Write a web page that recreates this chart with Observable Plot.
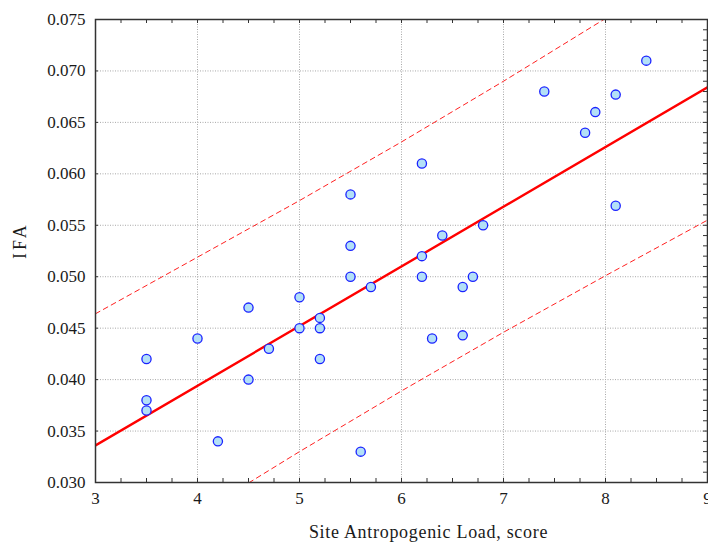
<!DOCTYPE html>
<html>
<head>
<meta charset="utf-8">
<script src="https://cdn.jsdelivr.net/npm/d3@7"></script>
<script src="https://cdn.jsdelivr.net/npm/@observablehq/plot@0.6"></script>
<style>
  html, body { margin: 0; padding: 0; background: #fff; }
  #chart { width: 708px; height: 542px; overflow: hidden; }
</style>
</head>
<body>
<div id="chart"></div>
<script>
// Observed points
const loadScore = [3.5,3.5,3.5,4.0,4.2,4.5,4.5,4.7,5.0,5.0,5.2,5.2,5.2,5.5,5.5,5.5,5.6,5.7,6.2,6.2,6.2,6.3,6.4,6.6,6.6,6.7,6.8,7.4,7.8,7.9,8.1,8.1,8.4];
const ifa = [0.042,0.038,0.037,0.044,0.034,0.047,0.040,0.043,0.048,0.045,0.046,0.045,0.042,0.058,0.053,0.050,0.033,0.049,0.061,0.052,0.050,0.044,0.054,0.049,0.0443,0.050,0.055,0.068,0.064,0.066,0.0677,0.0569,0.071];

// Regression line
const fitX = [3, 9];
const fitY = [0.0336, 0.0684];

// Prediction band
const bandX = [3, 4, 5, 6, 7, 8, 9];
const bandUpper = [0.0464, 0.0519, 0.0574, 0.0631, 0.0690, 0.0751, 0.0813];
const bandLower = [0.0208, 0.0269, 0.0330, 0.0389, 0.0446, 0.0501, 0.0555];

// Axis ticks and titles
const xTicks = [3, 4, 5, 6, 7, 8, 9];
const yTicks = [0.030, 0.035, 0.040, 0.045, 0.050, 0.055, 0.060, 0.065, 0.070, 0.075];
const xMinor = d3.range(3, 9.001, 0.25);
const yMinor = d3.range(0.030, 0.0751, 0.001);
const xTitle = "Site Antropogenic Load, score";
const yTitle = "IFA";

const points = loadScore.map((x, i) => ({x, y: ifa[i]}));
const fit = fitX.map((x, i) => ({x, y: fitY[i]}));
const upper = bandX.map((x, i) => ({x, y: bandUpper[i]}));
const lower = bandX.map((x, i) => ({x, y: bandLower[i]}));

const W = 708, H = 542, mt = 19, mb = 60, ml = 95, mr = 1;
const innerH = H - mt - mb, innerW = W - ml - mr;

const chart = Plot.plot({
  width: W,
  height: H,
  marginTop: mt,
  marginBottom: mb,
  marginLeft: ml,
  marginRight: mr,
  style: {fontFamily: "'Liberation Serif', serif", fontSize: "17px", color: "#1a1a1a", background: "#fff"},
  x: {domain: [3, 9]},
  y: {domain: [0.030, 0.075]},
  marks: [
    Plot.gridX(xTicks.slice(1, -1), {stroke: "#a8a8a8", strokeOpacity: 1, strokeDasharray: "1,1.5"}),
    Plot.gridY(yTicks.slice(1, -1), {stroke: "#a8a8a8", strokeOpacity: 1, strokeDasharray: "1,1.5"}),
    // inward ticks
    Plot.tickX(xMinor, {x: d => d, insetTop: innerH - 4, stroke: "#333"}),
    Plot.tickX(xMinor, {x: d => d, insetBottom: innerH - 4, stroke: "#333"}),
    Plot.tickY(yMinor, {y: d => d, insetLeft: innerW - 4, stroke: "#333"}),
    Plot.tickY(yTicks, {y: d => d, insetRight: innerW - 3, stroke: "#333"}),
    Plot.axisX(xTicks, {tickSize: 0, tickPadding: 9, label: null, fontSize: 17}),
    Plot.axisY(yTicks, {tickSize: 0, tickPadding: 10, tickFormat: d3.format(".3f"), label: null, fontSize: 17}),
    Plot.text([xTitle], {text: d => d, frameAnchor: "bottom", dy: 55, dx: 27, fontSize: 18, fill: "#1a1a1a"}),
    Plot.text([yTitle], {text: d => d, frameAnchor: "left", dx: -75, dy: 8, rotate: -90, fontSize: 18, fill: "#1a1a1a"}),
    Plot.line(upper, {x: "x", y: "y", stroke: "#ff2020", strokeWidth: 1, strokeDasharray: "5,4", clip: true}),
    Plot.line(lower, {x: "x", y: "y", stroke: "#ff2020", strokeWidth: 1, strokeDasharray: "5,4", clip: true}),
    Plot.line(fit, {x: "x", y: "y", stroke: "#ff0000", strokeWidth: 2.4, clip: true}),
    Plot.dot(points, {x: "x", y: "y", r: 4.6, fill: "#b3e0f7", stroke: "#1a22ff", strokeWidth: 1.3}),
    Plot.frame({stroke: "#333", strokeWidth: 1.5})
  ]
});
const svg = d3.select(chart);
svg.selectAll("text").filter(function() { return this.textContent === xTitle; }).attr("letter-spacing", "0.7px");
svg.selectAll("text").filter(function() { return this.textContent === yTitle; }).attr("letter-spacing", "3px");
document.getElementById("chart").appendChild(chart);
</script>
</body>
</html>
